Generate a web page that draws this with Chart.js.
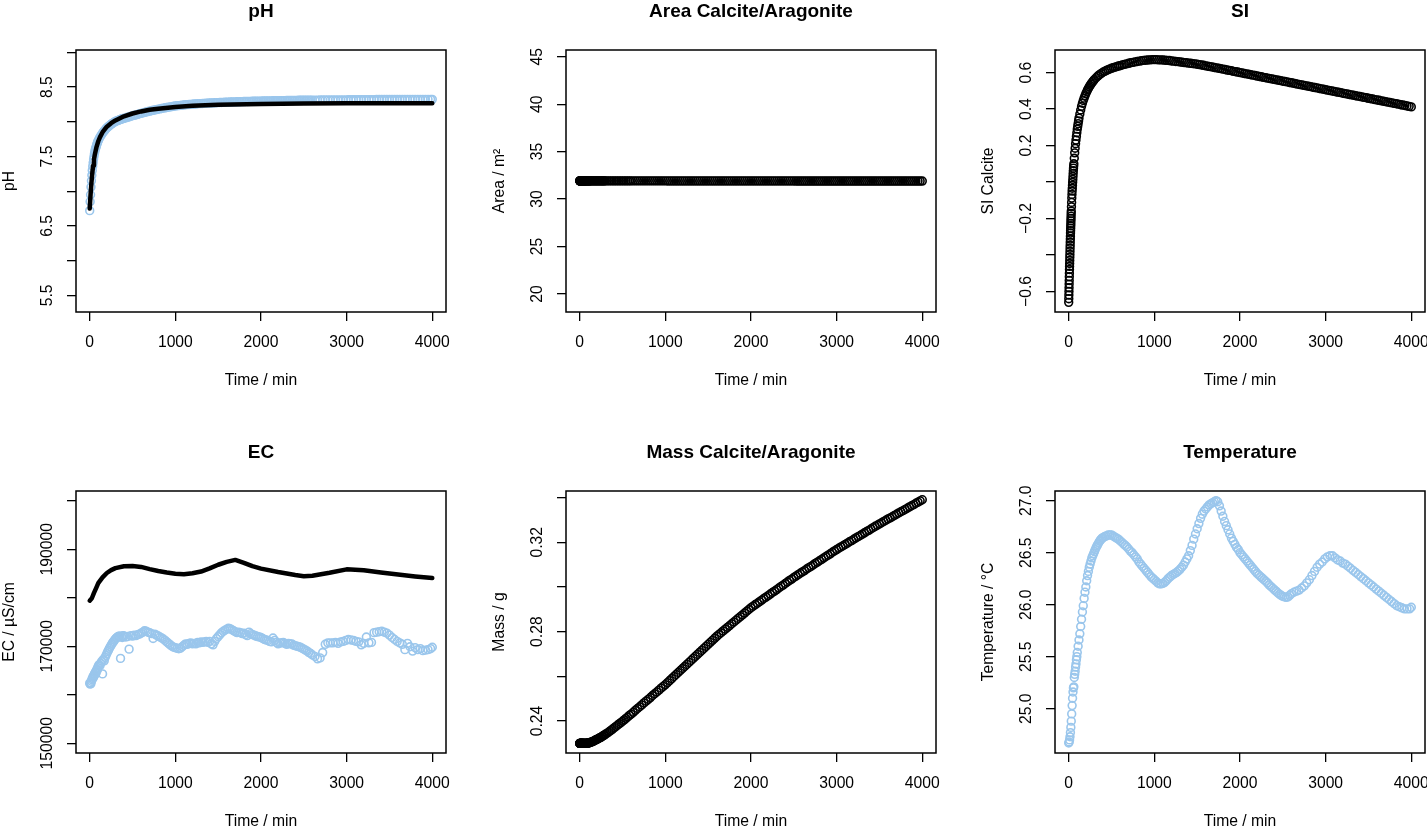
<!DOCTYPE html>
<html>
<head>
<meta charset="utf-8">
<script src="https://cdn.jsdelivr.net/npm/chart.js@4.4.1/dist/chart.umd.min.js"></script>
<style>
  html, body { margin: 0; padding: 0; background: #fff; overflow: hidden; }
  body { width: 1427px; height: 832px; position: relative; }
  canvas { position: absolute; }
</style>
</head>
<body>
<canvas id="cPh" width="486" height="392" style="left:0px;top:0px"></canvas>
<canvas id="cArea" width="486" height="392" style="left:490px;top:0px"></canvas>
<canvas id="cSi" width="486" height="392" style="left:979px;top:0px"></canvas>
<canvas id="cEc" width="486" height="392" style="left:0px;top:441px"></canvas>
<canvas id="cMass" width="486" height="392" style="left:490px;top:441px"></canvas>
<canvas id="cTemp" width="486" height="392" style="left:979px;top:441px"></canvas>
<script>
// ==========================
// DATA
// ==========================
const xTicks = [0, 1000, 2000, 3000, 4000];

// model output times (min)
const tModel = [0,1,2,3,4,5,6,7,8,9,10,11,12,13,14,15,16,17,18,19,20,21,22,23,24,25,26,27,28,29,30,
  32,34,36,38,40,42,44,46,48,50,52,54,56,58,60,
  65,70,75,80,85,90,95,100,105,110,115,120,
  130,140,150,160,170,180,190,200,210,220,230,240,250,260,270,280,290,300,
  320,340,360,380,400,420,440,460,480,500,520,540,560,580,600,
  625,650,675,700,725,750,775,800,825,850,875,900,925,950,975,1000,
  1025,1050,1075,1100,1125,1150,1175,1200,1225,1250,1275,1300,1325,1350,1375,1400,1425,1450,1475,1500,
  1525,1550,1575,1600,1625,1650,1675,1700,1725,1750,1775,1800,1825,1850,1875,1900,1925,1950,1975,2000,
  2025,2050,2075,2100,2125,2150,2175,2200,2225,2250,2275,2300,2325,2350,2375,2400,2425,2450,2475,2500,
  2525,2550,2575,2600,2625,2650,2675,2700,2725,2750,2775,2800,2825,2850,2875,2900,2925,2950,2975,3000,
  3025,3050,3075,3100,3125,3150,3175,3200,3225,3250,3275,3300,3325,3350,3375,3400,3425,3450,3475,3500,
  3525,3550,3575,3600,3625,3650,3675,3700,3725,3750,3775,3800,3825,3850,3875,3900,3925,3950,3975,4000];

// measurement times (min)
const tMeas = [0,5,10,15,20,25,30,35,40,45,50,55,60,65,70,75,80,85,90,95,100,
  110,120,130,140,150,160,170,180,190,200,210,220,230,240,250,260,270,280,290,300,
  310,320,330,340,350,360,370,380,390,400,
  420,440,460,480,500,520,540,560,580,600,
  620,640,660,680,700,720,740,760,780,800,
  820,840,860,880,900,920,940,960,980,1000,
  1020,1040,1060,1080,1100,1120,1140,1160,1180,1200,
  1220,1240,1260,1280,1300,1320,1340,1360,1380,1400,
  1420,1440,1460,1480,1500,1520,1540,1560,1580,1600,
  1620,1640,1660,1680,1700,1720,1740,1760,1780,1800,
  1820,1840,1860,1880,1900,1920,1940,1960,1980,2000,
  2020,2040,2060,2080,2100,2120,2140,2160,2180,2200,
  2220,2240,2260,2280,2300,2320,2340,2360,2380,2400,
  2420,2440,2460,2480,2500,2520,2540,2560,2580,2600,
  2630,2660,2690,2720,2750,2780,2810,2840,2870,2900,
  2930,2960,2990,3020,3050,3080,3110,3140,3170,3200,
  3230,3260,3290,3320,3350,3380,3410,3440,3470,3500,
  3530,3560,3590,3620,3650,3680,3710,3740,3770,3800,
  3830,3860,3890,3920,3950,3980,4000];

// pH
const tPhModel = [0,10,20,30,40,50,60,80,100,120,150,200,250,300,400,500,600,700,800,1000,1200,1500,2000,2500,3000,3500,4000];
const phModel = [6.75,6.95,7.12,7.26,7.37,7.46,7.53,7.64,7.72,7.78,7.85,7.93,7.98,8.02,8.08,8.12,8.15,8.175,8.19,8.215,8.23,8.245,8.258,8.263,8.266,8.267,8.268];
const phMeas = [6.72,6.85,6.95,7.06,7.15,7.23,7.30,7.36,7.41,7.46,7.50,7.54,7.57,7.60,7.62,7.64,7.66,7.68,7.70,7.715,7.73,
  7.755,7.78,7.80,7.82,7.838,7.855,7.87,7.885,7.90,7.912,7.924,7.935,7.945,7.955,7.965,7.974,7.982,7.99,7.998,8.005,
  8.01,8.016,8.021,8.025,8.03,8.035,8.04,8.044,8.047,8.05,
  8.057,8.065,8.072,8.080,8.087,8.094,8.101,8.108,8.116,8.122,
  8.129,8.136,8.142,8.148,8.154,8.160,8.166,8.171,8.176,8.181,
  8.187,8.192,8.197,8.202,8.206,8.211,8.215,8.219,8.224,8.228,
  8.231,8.234,8.237,8.240,8.243,8.246,8.248,8.250,8.252,8.254,
  8.256,8.258,8.260,8.262,8.263,8.265,8.266,8.268,8.269,8.271,
  8.272,8.273,8.275,8.276,8.277,8.278,8.279,8.280,8.282,8.283,
  8.284,8.285,8.286,8.287,8.288,8.289,8.290,8.290,8.291,8.292,
  8.293,8.294,8.294,8.295,8.296,8.296,8.297,8.298,8.299,8.299,
  8.300,8.300,8.301,8.301,8.302,8.302,8.303,8.303,8.304,8.304,
  8.305,8.305,8.306,8.306,8.307,8.307,8.308,8.308,8.308,8.309,
  8.309,8.310,8.310,8.310,8.311,8.311,8.311,8.312,8.312,8.312,
  8.313,8.313,8.314,8.314,8.315,8.315,8.315,8.316,8.316,8.316,
  8.317,8.317,8.317,8.318,8.318,8.318,8.319,8.319,8.319,8.319,
  8.320,8.320,8.320,8.320,8.321,8.321,8.321,8.321,8.321,8.322,
  8.322,8.322,8.322,8.322,8.322,8.323,8.323,8.323,8.323,8.323,
  8.323,8.323,8.324,8.324,8.324,8.324,8.324];
const phTicks = [5.5, 6, 6.5, 7, 7.5, 8, 8.5, 9];
const phLabels = ["5.5", "", "6.5", "", "7.5", "", "8.5", ""];

// Area calcite/aragonite
const areaCalcite = [31.92,31.92,31.92,31.92,31.92,31.92,31.92,31.92,31.92,31.92,31.92,31.92,31.92,31.92,31.92,31.92,
  31.92,31.92,31.92,31.92,31.92,31.92,31.92,31.92,31.92,31.92,31.92,31.92,31.92,31.92,31.92,
  31.92,31.92,31.92,31.92,31.92,31.92,31.92,31.92,31.92,31.92,31.92,31.92,31.92,31.92,31.92,
  31.92,31.92,31.92,31.92,31.92,31.92,31.92,31.92,31.92,31.92,31.92,31.92,
  31.92,31.92,31.92,31.92,31.92,31.92,31.92,31.92,31.92,31.92,31.92,31.92,31.92,31.92,31.92,31.92,31.92,31.92,
  31.92,31.92,31.92,31.92,31.92,31.92,31.92,31.92,31.92,31.92,31.92,31.92,31.92,31.92,31.92,
  31.92,31.92,31.92,31.92,31.92,31.92,31.92,31.92,31.92,31.92,31.92,31.92,31.92,31.92,31.92,31.92,
  31.91,31.91,31.91,31.91,31.91,31.91,31.91,31.91,31.91,31.91,31.91,31.91,31.91,31.91,31.91,31.91,31.91,31.91,31.91,31.91,
  31.91,31.91,31.91,31.91,31.91,31.91,31.91,31.91,31.91,31.91,31.91,31.91,31.91,31.91,31.91,31.91,31.91,31.91,31.91,31.91,
  31.91,31.91,31.91,31.91,31.91,31.91,31.91,31.91,31.91,31.91,31.91,31.91,31.91,31.91,31.91,31.91,31.91,31.91,31.91,31.91,
  31.90,31.90,31.90,31.90,31.90,31.90,31.90,31.90,31.90,31.90,31.90,31.90,31.90,31.90,31.90,31.90,31.90,31.90,31.90,31.90,
  31.90,31.90,31.90,31.90,31.90,31.90,31.90,31.90,31.90,31.90,31.90,31.90,31.90,31.90,31.90,31.90,31.90,31.90,31.90,31.90,
  31.90,31.90,31.90,31.90,31.90,31.90,31.90,31.90,31.90,31.90,31.90,31.90,31.90,31.90,31.90,31.90,31.90,31.90,31.90,31.90];
const areaTicks = [20, 25, 30, 35, 40, 45];
const areaLabels = ["20", "25", "30", "35", "40", "45"];

// SI calcite
const siCalcite = [-0.660,-0.640,-0.620,-0.600,-0.580,-0.560,-0.540,-0.520,-0.500,-0.480,-0.463,-0.447,-0.430,-0.413,-0.397,-0.380,
  -0.363,-0.347,-0.330,-0.313,-0.297,-0.280,-0.267,-0.253,-0.240,-0.227,-0.213,-0.200,-0.187,-0.173,-0.160,
  -0.136,-0.112,-0.088,-0.068,-0.050,-0.034,-0.018,-0.002,0.014,0.030,0.046,0.062,0.076,0.088,0.100,
  0.13,0.16,0.185,0.21,0.23,0.25,0.27,0.29,0.305,0.32,0.335,0.35,
  0.373,0.395,0.415,0.432,0.447,0.46,0.473,0.485,0.495,0.505,0.514,0.522,0.53,0.537,0.544,0.55,0.556,0.562,
  0.572,0.581,0.589,0.596,0.602,0.607,0.612,0.616,0.62,0.624,0.627,0.630,0.633,0.636,0.638,
  0.642,0.645,0.648,0.651,0.654,0.656,0.659,0.661,0.663,0.665,0.667,0.668,0.669,0.670,0.671,0.671,
  0.671,0.670,0.670,0.669,0.668,0.667,0.666,0.664,0.663,0.661,0.660,0.658,0.657,0.655,0.654,0.652,0.651,0.649,0.648,0.646,
  0.644,0.642,0.640,0.637,0.635,0.633,0.631,0.628,0.626,0.624,0.622,0.619,0.617,0.614,0.612,0.610,0.607,0.605,0.603,0.600,
  0.598,0.595,0.593,0.591,0.588,0.586,0.584,0.581,0.579,0.577,0.574,0.572,0.570,0.567,0.565,0.563,0.560,0.558,0.556,0.553,
  0.551,0.549,0.546,0.544,0.542,0.539,0.537,0.534,0.532,0.530,0.527,0.525,0.523,0.520,0.518,0.516,0.513,0.511,0.509,0.506,
  0.504,0.501,0.499,0.497,0.494,0.492,0.490,0.487,0.485,0.483,0.480,0.478,0.476,0.473,0.471,0.469,0.466,0.464,0.462,0.459,
  0.457,0.455,0.452,0.450,0.448,0.445,0.443,0.441,0.438,0.436,0.434,0.431,0.429,0.427,0.424,0.422,0.420,0.417,0.415,0.412];
const siTicks = [-0.6, -0.4, -0.2, 0, 0.2, 0.4, 0.6];
const siLabels = ["\u22120.6", "", "\u22120.2", "", "0.2", "0.4", "0.6"];

// EC
const tEcModel = [0,25,50,75,100,150,200,250,300,400,500,600,700,800,900,1000,1100,1200,1300,1400,1500,1600,1700,1800,1900,2000,2200,2400,2500,2600,2800,3000,3200,3400,3600,3800,4000];
const ecModel = [179400,179900,181000,182000,183000,184200,185100,185700,186100,186500,186550,186350,185900,185500,185200,184950,184850,185050,185400,186050,186800,187400,187800,187200,186500,186000,185300,184700,184450,184550,185150,185850,185650,185200,184800,184400,184050];
const ecMeas = [162400,162200,162500,162300,162800,163100,163400,163300,163800,163600,164000,164300,164100,164600,164800,164500,165000,165300,165100,165600,165900,
  166200,166000,166500,166900,164300,167300,167000,167700,168100,168500,168900,169200,169600,169900,170200,170500,170800,171000,171300,171500,
  171700,171800,172000,171900,172100,167500,172000,171800,172200,172100,
  171900,172000,169400,172200,172100,172300,172200,172400,172500,172700,
  172900,173200,173100,172900,172800,172600,171600,172500,172300,172100,
  171900,171700,171500,171200,170900,170600,170300,170000,169800,169700,
  169600,169500,169600,169900,170200,170500,170400,170600,170700,170500,
  170600,170500,170800,170700,170900,170800,170900,171000,170800,171000,
  170500,170300,171000,171600,172000,172400,172800,173100,173300,173500,
  173700,173600,173400,173200,173000,172800,172900,172800,172600,172700,
  172400,172200,172900,172600,172400,172300,172100,172000,171900,171800,
  171600,171400,171300,171200,171000,170900,171700,171200,170800,170500,
  170700,170700,170800,170600,170400,170600,170500,170500,170200,170100,
  170000,169900,169800,169600,169400,169200,169000,168700,168500,168200,
  167900,167400,167600,168700,170400,170700,170700,170700,170800,170600,
  170900,171000,171200,171400,171300,171200,171000,170900,170300,170600,
  171900,170700,170800,172800,172900,173000,173100,172900,172700,172300,
  171800,171400,171000,170700,170400,169300,170600,169900,169000,169700,
  169300,169500,169100,169200,169300,169500,169800];
const ecTicks = [150000, 160000, 170000, 180000, 190000, 200000];
const ecLabels = ["150000", "", "170000", "", "190000", ""];

// Mass calcite/aragonite
const massCalcite = [0.2300,0.2300,0.2300,0.2300,0.2300,0.2300,0.2300,0.2300,0.2300,0.2300,0.2300,0.2300,0.2300,0.2300,0.2300,0.2300,
  0.2300,0.2300,0.2300,0.2300,0.2300,0.2300,0.2300,0.2300,0.2300,0.2300,0.2300,0.2300,0.2300,0.2300,0.2300,
  0.2300,0.2300,0.2300,0.2300,0.2300,0.2300,0.2300,0.2300,0.2300,0.2300,0.2300,0.2300,0.2300,0.2300,0.2300,
  0.2300,0.2300,0.2300,0.2301,0.2301,0.2301,0.2302,0.2302,0.2302,0.2303,0.2303,0.2304,
  0.2305,0.2306,0.2308,0.2310,0.2312,0.2314,0.2316,0.2318,0.2320,0.2322,0.2324,0.2326,0.2328,0.2331,0.2333,0.2336,0.2338,0.2341,
  0.2346,0.2351,0.2357,0.2363,0.2369,0.2375,0.2381,0.2387,0.2393,0.2399,0.2405,0.2412,0.2418,0.2425,0.2431,
  0.2439,0.2448,0.2456,0.2464,0.2472,0.2481,0.2489,0.2497,0.2505,0.2514,0.2522,0.2530,0.2538,0.2547,0.2555,0.2563,
  0.2572,0.2581,0.2590,0.2599,0.2608,0.2617,0.2626,0.2635,0.2644,0.2653,0.2662,0.2671,0.2680,0.2689,0.2698,0.2707,0.2716,0.2725,0.2734,0.2743,
  0.2752,0.2761,0.2770,0.2779,0.2787,0.2795,0.2803,0.2811,0.2819,0.2827,0.2835,0.2843,0.2851,0.2859,0.2867,0.2875,0.2883,0.2891,0.2899,0.2907,
  0.2914,0.2921,0.2927,0.2934,0.2941,0.2948,0.2954,0.2961,0.2968,0.2975,0.2981,0.2988,0.2995,0.3002,0.3008,0.3015,0.3022,0.3029,0.3035,0.3042,
  0.3048,0.3055,0.3061,0.3067,0.3073,0.3080,0.3086,0.3092,0.3098,0.3105,0.3111,0.3117,0.3123,0.3130,0.3136,0.3142,0.3148,0.3155,0.3161,0.3167,
  0.3173,0.3179,0.3184,0.3190,0.3196,0.3202,0.3207,0.3213,0.3219,0.3225,0.3230,0.3236,0.3242,0.3248,0.3253,0.3259,0.3265,0.3271,0.3276,0.3282,
  0.3287,0.3293,0.3298,0.3304,0.3309,0.3314,0.3320,0.3325,0.3331,0.3336,0.3341,0.3347,0.3352,0.3358,0.3363,0.3368,0.3374,0.3379,0.3385,0.3390];
const massTicks = [0.24, 0.26, 0.28, 0.30, 0.32, 0.34];
const massLabels = ["0.24", "", "0.28", "", "0.32", ""];

// Temperature
const tempMeas = [24.67,24.68,24.70,24.73,24.77,24.82,24.88,24.95,25.03,25.10,25.16,25.20,25.21,25.30,25.33,25.36,25.40,25.43,25.47,25.50,25.54,
  25.60,25.66,25.72,25.79,25.86,25.93,25.99,26.06,26.12,26.17,26.23,26.28,26.32,26.36,26.39,26.42,26.45,26.47,26.49,26.51,
  26.53,26.55,26.565,26.58,26.595,26.61,26.62,26.63,26.64,26.645,
  26.655,26.66,26.67,26.67,26.67,26.66,26.65,26.64,26.63,26.615,
  26.60,26.585,26.57,26.555,26.535,26.515,26.50,26.48,26.46,26.44,
  26.41,26.39,26.37,26.35,26.33,26.31,26.29,26.27,26.255,26.24,
  26.225,26.21,26.20,26.20,26.205,26.215,26.23,26.25,26.265,26.28,
  26.29,26.30,26.31,26.325,26.34,26.36,26.38,26.41,26.44,26.47,
  26.52,26.57,26.63,26.68,26.73,26.78,26.83,26.87,26.90,26.92,
  26.94,26.96,26.97,26.98,26.99,27.00,26.99,26.95,26.90,26.85,
  26.80,26.76,26.72,26.68,26.64,26.61,26.58,26.55,26.53,26.50,
  26.48,26.46,26.44,26.42,26.40,26.38,26.36,26.34,26.32,26.30,
  26.285,26.27,26.255,26.24,26.225,26.21,26.19,26.175,26.16,26.145,
  26.13,26.115,26.10,26.09,26.08,26.075,26.07,26.075,26.09,26.105,
  26.12,26.13,26.14,26.16,26.18,26.21,26.24,26.28,26.32,26.36,
  26.39,26.41,26.44,26.46,26.47,26.47,26.45,26.43,26.42,26.40,
  26.39,26.37,26.35,26.33,26.31,26.29,26.27,26.25,26.23,26.21,
  26.19,26.17,26.15,26.13,26.11,26.09,26.07,26.05,26.03,26.01,
  25.99,25.98,25.97,25.96,25.96,25.96,25.975];
const tempTicks = [25.0, 25.5, 26.0, 26.5, 27.0];
const tempLabels = ["25.0", "25.5", "26.0", "26.5", "27.0"];

// ==========================
// STYLE
// ==========================
const FONT = '"Liberation Sans", Arial, Helvetica, sans-serif';
const FS = 15.7;
const BLUE = "#9AC6EC";
Chart.defaults.font.family = FONT;
Chart.defaults.font.size = FS;
Chart.defaults.color = "#000";

const xy = (t, v) => t.map((x, i) => ({ x, y: v[i] }));

const points = (t, v, color) => ({
    data: xy(t, v),
    showLine: false,
    pointRadius: 3.9,
    pointBorderWidth: 1.6,
    pointBorderColor: color,
    pointBackgroundColor: "rgba(0,0,0,0)",
    pointHoverRadius: 3.9
});

const line = (t, v) => ({
    data: xy(t, v),
    showLine: true,
    pointRadius: 0,
    borderColor: "#000",
    borderWidth: 4.5,
    borderCapStyle: "round",
    borderJoinStyle: "round",
    tension: 0
});

// y tick label position (R puts rotated labels ~29px left of the box)
const measure = document.createElement("canvas").getContext("2d");
function labelPad(labels) {
    measure.font = FS + "px " + FONT;
    const w = Math.max(...labels.map(s => measure.measureText(s).width));
    return 19.6 - w / 2;
}

const boxPlugin = {
    id: "box",
    afterDraw(chart) {
        const { ctx, chartArea: a } = chart;
        ctx.save();
        ctx.strokeStyle = "#000";
        ctx.lineWidth = 1.5;
        ctx.strokeRect(a.left, a.top, a.right - a.left, a.bottom - a.top);
        ctx.restore();
    }
};

// ==========================
// PANELS
// ==========================
function panel(id, title, yTitle, yMin, yMax, yTicks, yLabels, datasets) {
    new Chart(document.getElementById(id), {
        type: "scatter",
        data: { datasets },
        plugins: [boxPlugin],
        options: {
            responsive: false,
            animation: false,
            events: [],
            layout: { padding: { left: 0, top: 0, right: 40, bottom: 0 } },
            plugins: {
                legend: { display: false },
                tooltip: { enabled: false },
                title: {
                    display: true,
                    text: title,
                    fullSize: false,
                    color: "#000",
                    font: { size: 19, weight: "bold" },
                    padding: { top: 0, bottom: 27.2 }
                }
            },
            scales: {
                x: {
                    type: "linear",
                    min: -160,
                    max: 4160,
                    afterFit: s => { s.height = 80; },
                    afterBuildTicks: s => { s.ticks = xTicks.map(v => ({ value: v })); },
                    grid: { drawOnChartArea: false, tickLength: 9, color: "#000", lineWidth: 1.3 },
                    border: { display: false },
                    ticks: {
                        autoSkip: false,
                        maxRotation: 0,
                        padding: 12,
                        color: "#000",
                        callback: v => String(v)
                    },
                    title: {
                        display: true,
                        text: "Time / min",
                        color: "#000",
                        padding: { top: 0, bottom: 2.3 }
                    }
                },
                y: {
                    type: "linear",
                    min: yMin,
                    max: yMax,
                    afterFit: s => { s.width = 76; },
                    afterBuildTicks: s => { s.ticks = yTicks.map(v => ({ value: v })); },
                    grid: { drawOnChartArea: false, tickLength: 9, color: "#000", lineWidth: 1.3 },
                    border: { display: false },
                    ticks: {
                        autoSkip: false,
                        minRotation: 90,
                        maxRotation: 90,
                        crossAlign: "center",
                        padding: labelPad(yLabels),
                        color: "#000",
                        callback: (v, i) => yLabels[i]
                    },
                    title: {
                        display: true,
                        text: yTitle,
                        color: "#000",
                        padding: { top: 0, bottom: 0 }
                    }
                }
            }
        }
    });
}

panel("cPh", "pH", "pH", 5.26, 9.035, phTicks, phLabels,
    [line(tPhModel, phModel), points(tMeas, phMeas, BLUE)]);

panel("cArea", "Area Calcite/Aragonite", "Area / m\u00B2", 18.106, 45.705, areaTicks, areaLabels,
    [points(tModel, areaCalcite, "#000")]);

panel("cSi", "SI", "SI Calcite", -0.713, 0.724, siTicks, siLabels,
    [points(tModel, siCalcite, "#000")]);

panel("cEc", "EC", "EC / \u00B5S/cm", 148000, 202000, ecTicks, ecLabels,
    [line(tEcModel, ecModel), points(tMeas, ecMeas, BLUE)]);

panel("cMass", "Mass Calcite/Aragonite", "Mass / g", 0.2257, 0.3429, massTicks, massLabels,
    [points(tModel, massCalcite, "#000")]);

panel("cTemp", "Temperature", "Temperature / \u00B0C", 24.574, 27.093, tempTicks, tempLabels,
    [points(tMeas, tempMeas, BLUE)]);
</script>
</body>
</html>
